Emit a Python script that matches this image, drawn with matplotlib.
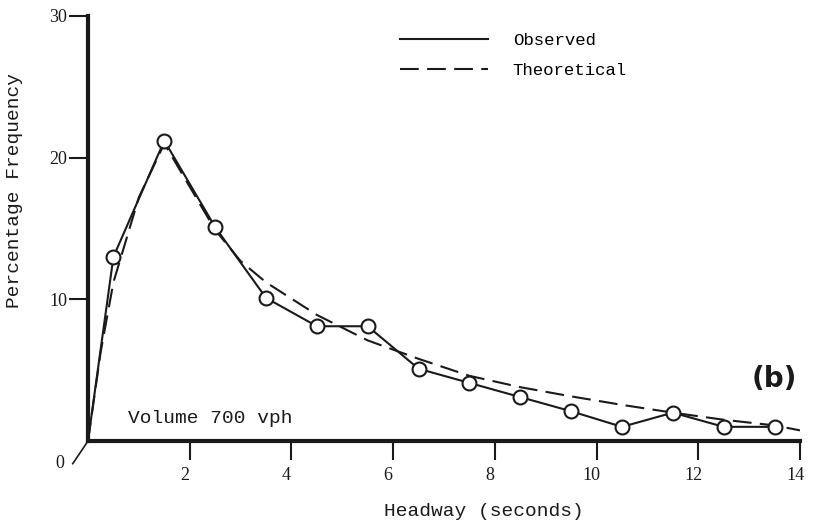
import numpy as np
import matplotlib
matplotlib.use("Agg")
import matplotlib.pyplot as plt
import matplotlib.transforms as mtransforms

# -------------------------------
# DATA
# -------------------------------
obs_x = [0, 0.5, 1.5, 2.5, 3.5, 4.5, 5.5, 6.5, 7.5, 8.5, 9.5, 10.5, 11.5, 12.5, 13.5]
obs_y = [0, 13.0, 21.2, 15.1, 10.1, 8.1, 8.1, 5.1, 4.1, 3.1, 2.1, 1.0, 2.0, 1.0, 1.0]
marker_x = obs_x[1:]
marker_y = obs_y[1:]

theo_x = [0, 0.25, 0.5, 1.0, 1.5, 2.5, 3.0, 3.5, 4.5, 5.5, 6.5, 7.5, 8.5, 9.5, 10.5, 11.5, 12.5, 13.5, 14.0]
theo_y = [0, 6.3, 11.2, 17.2, 21.0, 14.9, 12.7, 11.2, 8.9, 7.1, 5.8, 4.6, 3.8, 3.15, 2.55, 2.0, 1.5, 1.1, 0.75]

x_ticks = [2, 4, 6, 8, 10, 12, 14]
y_ticks = [10, 20, 30]

mono = "Liberation Mono"
serif = "Liberation Serif"
ink = "#1a1a1a"

# -------------------------------
# FIGURE
# -------------------------------
fig = plt.figure(figsize=(8.13, 5.25), dpi=100)
ax = fig.add_axes([88 / 813, 1 - 441 / 525, 712 / 813, 425 / 525])

ax.plot(obs_x, obs_y, color=ink, lw=1.5, label="Observed", zorder=3)
ax.plot(marker_x, marker_y, ls="none", marker="o", ms=10, mfc="white",
        mec=ink, mew=1.5, zorder=4)
ax.plot(theo_x, theo_y, color=ink, lw=1.5, ls=(0, (9, 4)), label="Theoretical",
        zorder=2)

ax.set_xlim(0, 14)
ax.set_ylim(0, 30)

for side in ["top", "right"]:
    ax.spines[side].set_visible(False)
for side in ["left", "bottom"]:
    ax.spines[side].set_linewidth(3)
    ax.spines[side].set_color(ink)

# small stroke below the origin corner
ax.plot([0, -0.3], [0, -1.6], color=ink, lw=1.2, clip_on=False)

ax.set_xticks(x_ticks)
ax.set_xticklabels([str(t) for t in x_ticks], fontfamily=serif, fontsize=13)
ax.set_yticks(y_ticks)
ax.set_yticklabels([str(t) for t in y_ticks], fontfamily=serif, fontsize=13)
ax.tick_params(axis="x", direction="out", length=14, width=1.5, colors=ink, pad=5)
ax.tick_params(axis="y", direction="out", length=14, width=1.5, colors=ink, pad=1)

shift = mtransforms.ScaledTranslation(-5 / 100, 0, fig.dpi_scale_trans)
for lab in ax.get_xticklabels():
    lab.set_transform(lab.get_transform() + shift)

ax.text(-0.55, -1.0, "0", fontfamily=serif, fontsize=13, color=ink,
        ha="center", va="top")

fig.text(484 / 813, 1 - 512 / 525, "Headway (seconds)", fontfamily=mono,
         fontsize=14, color=ink, ha="center", va="center")
fig.text(15 / 813, 1 - 190 / 525, "Percentage Frequency", fontfamily=mono,
         fontsize=14, color=ink, ha="center", va="center", rotation=90)

ax.text(0.79, 1.3, "Volume 700 vph", fontfamily=mono, fontsize=14, color=ink,
        va="baseline")
ax.text(13.5, 4.4, "(b)", fontfamily="DejaVu Sans", fontsize=20,
        fontweight="bold", color=ink, ha="center", va="center")

ax.legend(loc="upper left", bbox_to_anchor=(0.438, 0.96), frameon=False,
          prop={"family": mono, "size": 12.5}, handlelength=5.1,
          handletextpad=1.4, labelspacing=0.85, borderpad=0, borderaxespad=0)

fig.savefig("out.png", dpi=100)
